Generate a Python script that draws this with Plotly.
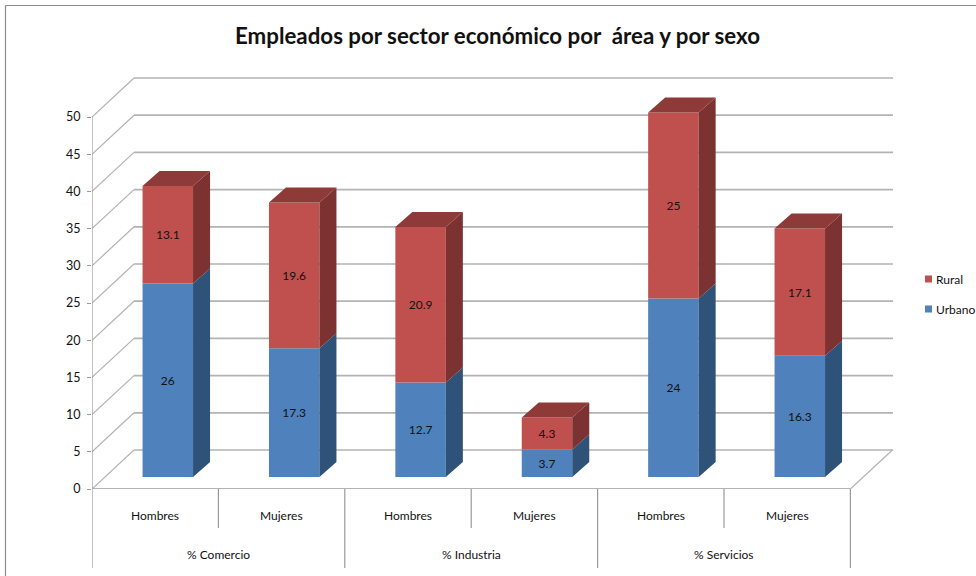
import plotly.graph_objects as go

TITLE = "Empleados por sector económico por  área y por sexo"
sexes = ["Hombres", "Mujeres", "Hombres", "Mujeres", "Hombres", "Mujeres"]
sectors = ["% Comercio", "% Industria", "% Servicios"]
urbano = [26, 17.3, 12.7, 3.7, 24, 16.3]
rural = [13.1, 19.6, 20.9, 4.3, 25, 17.1]
y_ticks = [0, 5, 10, 15, 20, 25, 30, 35, 40, 45, 50]

W, H = 976, 576
L, R, T, B = 92, 893, 60, 489      # plot area in pixels
CAT_W = 126.4
PX_PER_UNIT = 7.44
x_min = -0.5
x_max = x_min + (R - L) / CAT_W
y_max = (B - T) / PX_PER_UNIT

# depth of the 3-D look, in axis units
wall_dx, wall_dy = 42 / CAT_W, 39 / PX_PER_UNIT
bar_dx, bar_dy = 17 / CAT_W, 15 / PX_PER_UNIT
bar_shift = 12.6 / CAT_W
bar_base = 12 / PX_PER_UNIT
bar_w = 50.5 / CAT_W

GRID = "#B3B3B3"
BLACK = "#111111"
FONT = "Lato"
BLUE, BLUE_SIDE = "#4F81BD", "#2F5279"
RED, RED_SIDE, RED_TOP = "#C0504D", "#7B3230", "#8E3A38"


def py(pixel):
    return (B - pixel) / (B - T)


def px(pixel):
    return (pixel - L) / (R - L)


def side_faces(bases, heights):
    xs, ys = [], []
    for i, (b, h) in enumerate(zip(bases, heights)):
        xr = i + bar_shift + bar_w / 2
        xs += [xr, xr + bar_dx, xr + bar_dx, xr, xr, None]
        ys += [b, b + bar_dy, b + h + bar_dy, b + h, b, None]
    return xs, ys


def top_faces(tops):
    xs, ys = [], []
    for i, t in enumerate(tops):
        xl, xr = i + bar_shift - bar_w / 2, i + bar_shift + bar_w / 2
        xs += [xl, xr, xr + bar_dx, xl + bar_dx, xl, None]
        ys += [t, t, t + bar_dy, t + bar_dy, t, None]
    return xs, ys


positions = [i + bar_shift for i in range(len(sexes))]
urbano_base = [bar_base] * len(urbano)
rural_base = [b + u for b, u in zip(urbano_base, urbano)]
totals = [b + r for b, r in zip(rural_base, rural)]

fig = go.Figure()
for name, vals, bases, color in [("Urbano", urbano, urbano_base, BLUE), ("Rural", rural, rural_base, RED)]:
    fig.add_trace(go.Bar(
        name=name, x=positions, y=vals, base=bases, width=bar_w,
        marker=dict(color=color, line=dict(width=0)),
        text=[str(v) for v in vals], textposition="inside", insidetextanchor="middle",
        textangle=0, textfont=dict(family=FONT, size=12, color=BLACK),
        showlegend=False, hoverinfo="name+text",
    ))
for (xs, ys), color in [
    (side_faces(urbano_base, urbano), BLUE_SIDE),
    (side_faces(rural_base, rural), RED_SIDE),
    (top_faces(totals), RED_TOP),
]:
    fig.add_trace(go.Scatter(x=xs, y=ys, mode="lines", fill="toself", fillcolor=color,
                             line=dict(width=0, color=color), showlegend=False, hoverinfo="skip"))

shapes = []


def line(x0, y0, x1, y1, xref="x", yref="y", color=GRID, width=1.5, layer="below"):
    shapes.append(dict(type="line", x0=x0, y0=y0, x1=x1, y1=y1, xref=xref, yref=yref,
                       line=dict(color=color, width=width), layer=layer))


for v in y_ticks:
    line(x_min, v, x_min + wall_dx, v + wall_dy, width=1.2)
    line(x_min + wall_dx, v + wall_dy, x_max, v + wall_dy, width=1.7)
line(x_min, 0, x_min, 50, color="#999999", width=1.2)
line(x_min, 0, x_min + 6, 0, width=1.8)
line(x_min + 6, 0, x_min + 6 + wall_dx, wall_dy, width=1.2)

# category separators below the axis
for i in range(7):
    long_tick = i % 2 == 0
    line(x_min + i, py(489), x_min + i, py(568 if long_tick else 528), yref="paper",
         color="#999999", width=1.2)

# chart frame (left and top edges)
line(px(5.5), py(5.5), px(976), py(5.5), xref="paper", yref="paper", color="#8C8C8C", width=1.2)
line(px(5.5), py(5.5), px(5.5), py(576), xref="paper", yref="paper", color="#8C8C8C", width=1.2)

annotations = []


def text(s, x, y, size=12, xref="x", xanchor="center", bold=False):
    annotations.append(dict(text=f"<b>{s}</b>" if bold else s, x=x, y=y, xref=xref, yref="paper",
                            showarrow=False, xanchor=xanchor, yanchor="middle",
                            font=dict(family=FONT, size=size, color=BLACK)))


for i, s in enumerate(sexes):
    text(s, i, py(515))
for i, s in enumerate(sectors):
    text(s, 2 * i + 0.5, py(554))

# legend
for label, color, y_px in [("Rural", RED, 279), ("Urbano", BLUE, 309)]:
    shapes.append(dict(type="rect", xref="paper", yref="paper", x0=px(925), x1=px(932),
                       y0=py(y_px - 3.5), y1=py(y_px + 3.5), fillcolor=color, line=dict(width=0)))
    text(label, px(934), py(y_px), xref="paper", xanchor="left")

text(TITLE, px(497), py(36), size=22.3, xref="paper", bold=True)

fig.update_layout(
    width=W, height=H, margin=dict(l=L, r=W - R, t=T, b=H - B),
    paper_bgcolor="white", plot_bgcolor="white", barmode="overlay", showlegend=False,
    xaxis=dict(range=[x_min, x_max], showgrid=False, zeroline=False, showticklabels=False, ticks="", showline=False),
    yaxis=dict(range=[0, y_max], tickmode="array", tickvals=y_ticks, showgrid=False, zeroline=False,
               ticks="outside", ticklen=4, tickcolor="#999999", showline=False, ticklabelstandoff=4,
               tickfont=dict(family=FONT, size=12.5, color=BLACK)),
    shapes=shapes, annotations=annotations,
)
fig.write_html("out.html", config={"displayModeBar": False}, post_script="document.body.style.margin='0';")
